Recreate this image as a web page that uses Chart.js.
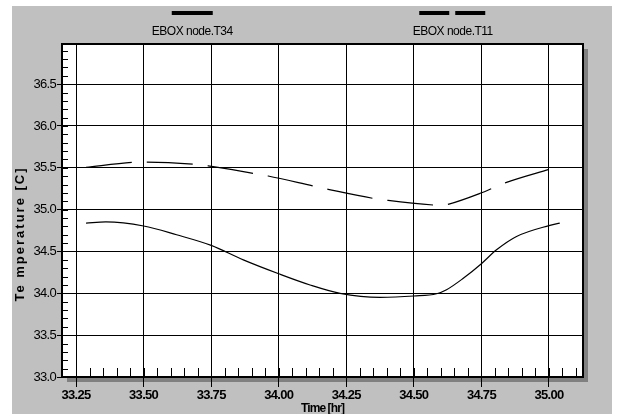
<!DOCTYPE html>
<html>
<head>
<meta charset="utf-8">
<title>EBOX node temperatures</title>
<script src="https://cdn.jsdelivr.net/npm/chart.js@4.4.0/dist/chart.umd.min.js"></script>
<style>
  html, body { margin: 0; padding: 0; background: #fff; }
  canvas { display: block; }
</style>
</head>
<body>
<canvas id="tempChart" width="617" height="414"></canvas>
<script>
// values: time in hours, temperature in C
const seriesLabels = ["EBOX node.T34", "EBOX node.T11"]

const timeT34 = [33.287, 33.36, 33.5, 33.622, 33.75, 33.869, 34.0, 34.116, 34.227, 34.375, 34.5, 34.584, 34.621, 34.683, 34.75, 34.806, 34.88, 35.0, 35.04]
const tempT34 = [34.84, 34.853, 34.805, 34.70, 34.573, 34.40, 34.234, 34.10, 34.00, 33.952, 33.968, 33.995, 34.043, 34.18, 34.354, 34.52, 34.68, 34.81, 34.84]

const timeT11 = [33.287, 33.456, 33.512, 33.682, 33.739, 33.906, 33.961, 34.128, 34.183, 34.35, 34.405, 34.574, 34.60, 34.63, 34.751, 34.79, 34.843, 35.004]
const tempT11 = [35.505, 35.565, 35.569, 35.545, 35.524, 35.434, 35.402, 35.282, 35.243, 35.135, 35.111, 35.055, 35.05, 35.067, 35.202, 35.255, 35.326, 35.485]

const xTickValues = [33.25, 33.5, 33.75, 34.0, 34.25, 34.5, 34.75, 35.0]
const xTickLabels = ["33.25", "33.50", "33.75", "34.00", "34.25", "34.50", "34.75", "35.00"]
const yTickValues = [33.0, 33.5, 34.0, 34.5, 35.0, 35.5, 36.0, 36.5]
const yTickLabels = ["33.0", "33.5", "34.0", "34.5", "35.0", "35.5", "36.0", "36.5"]

const xTitle = "Time [hr]"
const yTitle = "Te mperature [C]"

const FONT = "'Liberation Sans', Arial, sans-serif"

const toPoints = (xs, ys) => xs.map((x, i) => ({ x: x, y: ys[i] }))

// gray panel, plot shadow, frame, minor ticks, titles and the legend above the plot
const panelPlugin = {
  id: "panel",
  beforeDraw(chart) {
    const { ctx, chartArea: a, width, height } = chart
    ctx.save()
    ctx.fillStyle = "#ffffff"
    ctx.fillRect(0, 0, width, height)
    ctx.fillStyle = "#c0c0c0"
    ctx.fillRect(12, 6, 600, height - 6)
    ctx.fillStyle = "#808080"
    ctx.fillRect(a.left + 5, a.top + 5, a.right - a.left, a.bottom - a.top)
    ctx.fillStyle = "#ffffff"
    ctx.fillRect(a.left, a.top, a.right - a.left, a.bottom - a.top)
    ctx.restore()
    // tick labels are set tight in the original
    ctx.letterSpacing = "-0.7px"
  },
  afterDraw(chart) {
    const { ctx, chartArea: a } = chart
    const xs = chart.scales.x
    const ys = chart.scales.y
    ctx.save()
    ctx.letterSpacing = "0px"

    // frame top and right
    ctx.strokeStyle = "#000"
    ctx.lineWidth = 2
    ctx.beginPath()
    ctx.moveTo(a.left, a.top)
    ctx.lineTo(a.right, a.top)
    ctx.lineTo(a.right, a.bottom)
    ctx.stroke()

    // minor ticks inside the plot
    ctx.lineWidth = 1
    ctx.beginPath()
    for (let v = 33.2; v < xs.max; v += 0.05) {
      const px = Math.round(xs.getPixelForValue(v)) + 0.5
      if (px <= a.left + 2 || px >= a.right - 2) continue
      ctx.moveTo(px, a.bottom)
      ctx.lineTo(px, a.bottom - 9)
    }
    for (let v = 33.1; v < ys.max; v += 0.1) {
      const py = Math.round(ys.getPixelForValue(v)) + 0.5
      if (py <= a.top + 2) continue
      ctx.moveTo(a.left, py)
      ctx.lineTo(a.left + 6, py)
    }
    ctx.stroke()

    // axis titles
    ctx.fillStyle = "#000"
    ctx.font = "bold 12px " + FONT
    ctx.letterSpacing = "-0.9px"
    ctx.textAlign = "center"
    ctx.textBaseline = "alphabetic"
    ctx.fillText(xTitle, (a.left + a.right) / 2, 412)

    ctx.save()
    ctx.translate(20, 234)
    ctx.rotate(-Math.PI / 2)
    ctx.font = "bold 13px " + FONT
    ctx.letterSpacing = "2px"
    ctx.textBaseline = "middle"
    ctx.fillText(yTitle, 0, 0)
    ctx.restore()

    // legend: line sample above each label
    const lineLengths = [41, 67]
    chart.data.datasets.forEach((ds, i) => {
      const cx = a.left + (a.right - a.left) * (2 * i + 1) / 4
      const len = lineLengths[i]
      ctx.strokeStyle = "#000"
      ctx.lineWidth = 4
      ctx.lineCap = "butt"
      ctx.setLineDash(ds.borderDash && ds.borderDash.length ? [30, 6] : [])
      ctx.beginPath()
      ctx.moveTo(cx - len / 2, 13)
      ctx.lineTo(cx + len / 2, 13)
      ctx.stroke()
      ctx.setLineDash([])
      ctx.font = "12px " + FONT
      ctx.letterSpacing = "-0.5px"
      ctx.textAlign = "center"
      ctx.textBaseline = "middle"
      ctx.fillText(ds.label, cx, 32)
    })
    ctx.restore()
  },
}

const canvas = document.getElementById("tempChart")

new Chart(canvas.getContext("2d"), {
  type: "line",
  data: {
    datasets: [
      {
        label: seriesLabels[0],
        data: toPoints(timeT34, tempT34),
        borderColor: "#000",
        borderWidth: 1.2,
        pointRadius: 0,
        fill: false,
        cubicInterpolationMode: "monotone",
      },
      {
        label: seriesLabels[1],
        data: toPoints(timeT11, tempT11),
        borderColor: "#000",
        borderWidth: 1.2,
        borderDash: [46, 15],
        pointRadius: 0,
        fill: false,
        cubicInterpolationMode: "monotone",
      },
    ],
  },
  options: {
    responsive: false,
    animation: false,
    devicePixelRatio: 1,
    layout: { padding: { left: 0, top: 44, right: 34, bottom: 0 } },
    plugins: {
      legend: { display: false },
      tooltip: { enabled: false },
    },
    scales: {
      x: {
        type: "linear",
        min: 33.198,
        max: 35.126,
        afterBuildTicks: (scale) => {
          scale.ticks = xTickValues.map((v) => ({ value: v }))
        },
        afterFit: (scale) => {
          scale.height = 37
        },
        ticks: {
          callback: (v, i) => xTickLabels[i],
          color: "#000",
          font: { family: FONT, size: 13, weight: "bold" },
          padding: 1,
          autoSkip: false,
          maxRotation: 0,
        },
        grid: { color: "#000", lineWidth: 1, tickLength: 10 },
        border: { display: true, color: "#000", width: 2 },
      },
      y: {
        type: "linear",
        min: 33.0,
        max: 36.98,
        afterBuildTicks: (scale) => {
          scale.ticks = yTickValues.map((v) => ({ value: v }))
        },
        afterFit: (scale) => {
          scale.width = 62
        },
        ticks: {
          callback: (v, i) => yTickLabels[i],
          color: "#000",
          font: { family: FONT, size: 13 },
          padding: 1,
          autoSkip: false,
        },
        grid: { color: "#000", lineWidth: 1, tickLength: 5 },
        border: { display: true, color: "#000", width: 2 },
      },
    },
  },
  plugins: [panelPlugin],
})
</script>
</body>
</html>
